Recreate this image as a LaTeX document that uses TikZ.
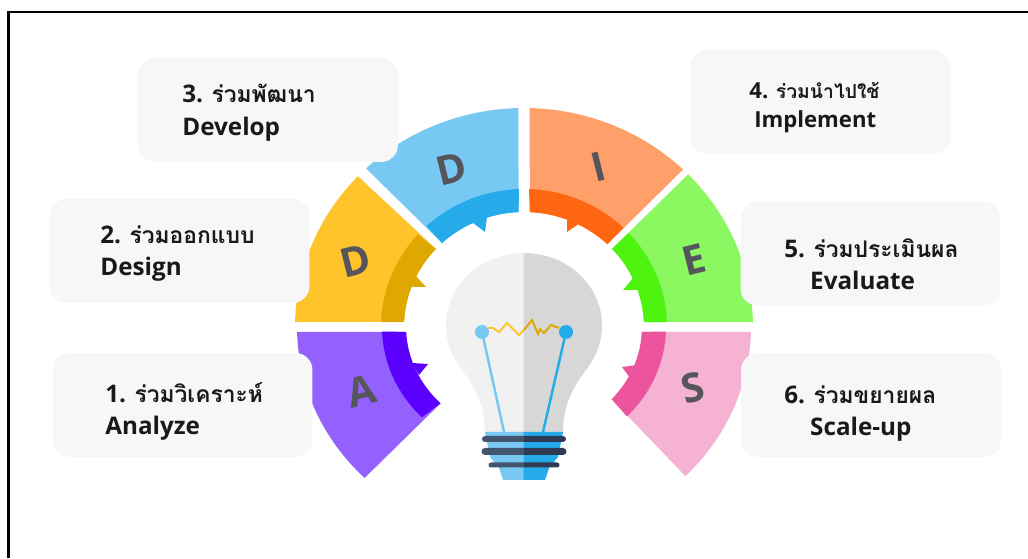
\documentclass[tikz,border=0pt]{standalone}
\usepackage{fontspec}
\setmainfont{Open Sans}
\newfontfamily\thaifont[Script=Thai]{Loma}
\definecolor{lblfill}{HTML}{F7F7F7}
\definecolor{lettergray}{HTML}{55555B}
\definecolor{purpleL}{HTML}{9461FF}
\definecolor{purpleD}{HTML}{5B00FF}
\definecolor{goldL}{HTML}{FFC42B}
\definecolor{goldD}{HTML}{DFA800}
\definecolor{blueL}{HTML}{78C8F4}
\definecolor{blueD}{HTML}{25AAEA}
\definecolor{orangeL}{HTML}{FFA06A}
\definecolor{orangeD}{HTML}{FF6612}
\definecolor{greenL}{HTML}{8BF862}
\definecolor{greenD}{HTML}{4EF30F}
\definecolor{pinkL}{HTML}{F5B2D2}
\definecolor{pinkD}{HTML}{EC559E}
\definecolor{bulbL}{HTML}{F1F1F1}
\definecolor{bulbD}{HTML}{D7D7D7}
\definecolor{capL}{HTML}{43546F}
\definecolor{capD}{HTML}{2F3B52}
\newcommand{\thaiword}[1]{{\thaifont\fontsize{13}{18}\selectfont #1}}
\tikzset{
  lblbox/.style={fill=lblfill, rounded corners=0.34cm, minimum width=5.2cm, minimum height=2.08cm, inner sep=0pt},
  lbltext/.style={inner sep=0pt, anchor=west, align=left, font=\bfseries\fontsize{13.8}{18.2}\selectfont, text=black!90},
  fanletter/.style={inner sep=0pt, font=\bfseries\fontsize{23}{23}\selectfont, text=lettergray, rotate=14}
}
\begin{document}
\begin{tikzpicture}[x=0.02cm,y=0.02cm]
  \useasboundingbox (0,0) rectangle (1028,558);
  % Frame
  \draw[line width=1.5pt] (8.5,0) -- (8.5,546) -- (1028,546);

  % Fan and bulb, origin at the hub
  \begin{scope}[shift={(524,231)}]
    % Upper sectors: outer angles, inner angles, band angles
    \foreach \lt/\dk/\oa/\ob/\ia/\ib/\ba/\bb in {
        goldL/goldD/178.7/136.5/177.5/137.2/178/138,
        blueL/blueD/91.4/133.6/92.6/133.1/92/133,
        orangeL/orangeD/88.6/46/87.2/46/88/46,
        greenL/greenD/1.3/44.2/2.4/42.8/2/43} {
      \fill[\lt] (\oa:229 and 219) arc[start angle=\oa, end angle=\ob, x radius=229, y radius=219]
        -- (\ib:120 and 115) arc[start angle=\ib, end angle=\ia, x radius=120, y radius=115] -- cycle;
      \fill[\dk] (\ba:143 and 138) arc[start angle=\ba, end angle=\bb, x radius=143, y radius=138]
        -- (\ib:120 and 115) arc[start angle=\ib, end angle=\ia, x radius=120, y radius=115] -- cycle;
    }
    % Lower sectors
    \foreach \lt/\dk/\oa/\ob/\ia/\ib/\ba/\bb in {
        purpleL/purpleD/181.3/225.4/182.6/225/182/224,
        pinkL/pinkD/-1.3/-44.7/-2.6/-42/-2/-43.5} {
      \fill[\lt] (\oa:227 and 212) arc[start angle=\oa, end angle=\ob, x radius=227, y radius=212]
        -- (\ib:118 and 108) arc[start angle=\ib, end angle=\ia, x radius=118, y radius=108] -- cycle;
      \fill[\dk] (\ba:142 and 130) arc[start angle=\ba, end angle=\bb, x radius=142, y radius=130]
        -- (\ib:118 and 108) arc[start angle=\ib, end angle=\ia, x radius=118, y radius=108] -- cycle;
    }
    % Teeth
    \fill[goldD] (-109,52) -- (-98,40) -- (-114,40) -- cycle;
    \fill[blueD] (-51,104) -- (-39,95) -- (-37,110) -- cycle;
    \fill[orangeD] (43,110) -- (43,95) -- (56,104) -- cycle;
    \fill[greenD] (109,49) -- (99,37) -- (117,37) -- cycle;
    \fill[purpleD] (-112,-36) -- (-96,-37) -- (-105,-48) -- cycle;
    \fill[pinkD] (113,-38) -- (98,-40) -- (106,-51) -- cycle;

    % Letters
    \node[fanletter] (letterA) at (-162,-64) {A};
    \node[fanletter] (letterDa) at (-168,66) {D};
    \node[fanletter] (letterDb) at (-72,158) {D};
    \node[fanletter] (letterI) at (74,160) {I};
    \node[fanletter] (letterE) at (170,67) {E};
    \node[fanletter] (letterS) at (169,-61) {S};

    % Bulb halves
    \foreach \s/\glass/\metal/\band in {1/bulbL/blueL/capL, -1/bulbD/blueD/capD} {
      \begin{scope}[xscale=\s]
        \fill[\glass] (0.3,74) .. controls (-45,74) and (-78,40) .. (-78,2)
          .. controls (-78,-22) and (-68,-35) .. (-57,-50)
          .. controls (-48,-63) and (-39,-80) .. (-39,-105) -- (0.3,-105) -- cycle;
        \fill[\metal] (0.3,-105) -- (-39,-105) -- (-34,-130) -- (-25,-141) -- (-21,-153) -- (0.3,-153) -- cycle;
        \fill[\band] (0.3,-109) -- (-39,-109) arc[start angle=90, end angle=270, radius=3] -- (0.3,-115) -- cycle;
        \fill[\band] (0.3,-121) -- (-39,-121) arc[start angle=90, end angle=270, radius=3.5] -- (0.3,-128) -- cycle;
        \fill[\band] (0.3,-135.5) -- (-33,-135.5) arc[start angle=90, end angle=270, radius=2.5] -- (0.3,-140.5) -- cycle;
      \end{scope}
    }
    % Filament
    \draw[blueL, line width=1.4pt] (-42,-5) -- (-20,-105);
    \draw[blueD, line width=1.4pt] (42,-5) -- (19,-105);
    \draw[goldL, line width=1.1pt] (-36,-1) -- (-31,-1) -- (-25,-5) -- (-17,4) -- (-5,-8) -- (0,-3);
    \draw[goldD, line width=1.1pt] (0,-3) -- (8,7) -- (14,-7) -- (16,-2) -- (20,-6) -- (27,2) -- (35,-1);
    \fill[blueL] (-42,-5) circle (7);
    \fill[blueD] (42,-5) circle (7);
  \end{scope}

  % Label boxes
  \node[lblbox] (boxA) at (182.5,153) {};
  \node[lblbox] (boxDa) at (179.5,307) {};
  \node[lblbox] (boxDb) at (268,448) {};
  \node[lblbox] (boxI) at (820.5,456) {};
  \node[lblbox] (boxE) at (870.5,304.5) {};
  \node[lblbox] (boxS) at (871,153) {};

  % Label texts
  \node[lbltext] (txtA) at (105,146.5) {1. \thaiword{ร่วมวิเคราะห์}\\Analyze};
  \node[lbltext] (txtDa) at (100,304.5) {2. \thaiword{ร่วมออกแบบ}\\Design};
  \node[lbltext] (txtDb) at (182,445.5) {3. \thaiword{ร่วมพัฒนา}\\[0.5pt]Develop};
  \node[lbltext, font=\bfseries\fontsize{12.6}{16.2}\selectfont] (txtI) at (749,450.5) {4. {\thaifont\fontsize{11}{16}\selectfont ร่วมนำไปใช้}\\\hspace*{2.8pt}Implement};
  \node[lbltext] (txtE) at (784,294) {5. \thaiword{ร่วมประเมินผล}\\\hspace*{14.7pt}Evaluate};
  \node[lbltext] (txtS) at (784,144) {6. \thaiword{ร่วมขยายผล}\\\hspace*{14.7pt}Scale-up};
\end{tikzpicture}
\end{document}
